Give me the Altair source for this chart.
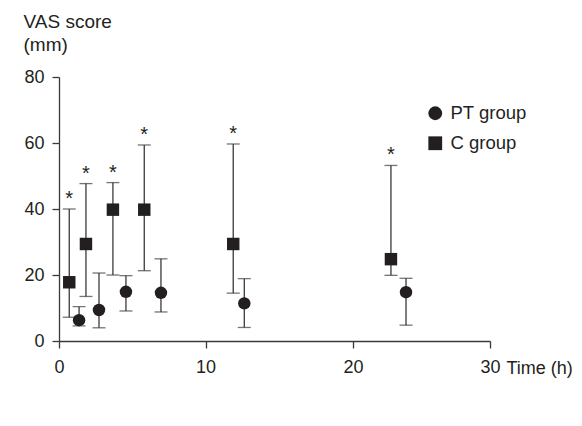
import altair as alt
import pandas as pd

# ---- data ----
groups = ["PT group", "C group"]
c_time = [0.70, 1.84, 3.68, 5.82, 11.88, 22.77]
c_mean = [17.8, 29.4, 39.8, 39.8, 29.4, 24.8]
c_low = [7.2, 13.5, 20.0, 21.3, 14.5, 19.9]
c_high = [40.0, 47.7, 48.0, 59.4, 59.7, 53.2]
pt_time = [1.37, 2.73, 4.57, 6.96, 12.63, 23.87]
pt_mean = [6.3, 9.4, 14.9, 14.6, 11.4, 14.8]
pt_low = [4.6, 4.0, 9.1, 8.8, 4.1, 4.8]
pt_high = [10.4, 20.6, 19.8, 24.9, 18.9, 19.0]
x_ticks = [0, 10, 20, 30]
y_ticks = [0, 20, 40, 60, 80]

rows = []
for t, m, lo, hi in zip(pt_time, pt_mean, pt_low, pt_high):
    rows.append({"time": t, "mean": m, "low": lo, "high": hi, "group": "PT group", "star": ""})
for t, m, lo, hi in zip(c_time, c_mean, c_low, c_high):
    rows.append({"time": t, "mean": m, "low": lo, "high": hi, "group": "C group", "star": "*"})
df = pd.DataFrame(rows)

INK = "#231f20"
LINE = "#3a3a3a"
FONT = "Liberation Sans"

xscale = alt.Scale(domain=[0, 10, 20, 30], range=[0, 146.5, 294, 431], nice=False, zero=False)
yscale = alt.Scale(domain=[0, 80], nice=False, zero=False)

xaxis = alt.Axis(values=x_ticks, title="Time (h)", titleX=447, titleY=32.5,
                 titleAlign="left", titleBaseline="alphabetic", titleFontWeight="normal",
                 titleFontSize=18, labelFontSize=18, tickSize=7, labelPadding=10,
                 grid=False, labelFlush=False)
yaxis = alt.Axis(values=y_ticks, title=["VAS score", "(mm)"], titleAngle=0,
                 titleX=-36, titleY=-50, titleAlign="left", titleBaseline="alphabetic",
                 titleLineHeight=23, titleFontWeight="normal", titleFontSize=19,
                 labelFontSize=18, tickSize=7, labelPadding=8, grid=False)

base = alt.Chart(df)

bars = base.mark_rule(color=LINE, strokeWidth=1.3).encode(
    x=alt.X("time:Q", scale=xscale, axis=xaxis),
    y=alt.Y("low:Q", scale=yscale, axis=yaxis),
    y2="high:Q",
)
cap_hi = base.mark_tick(orient="horizontal", size=13, thickness=1.3, color=LINE).encode(
    x=alt.X("time:Q", scale=xscale), y=alt.Y("high:Q", scale=yscale))
cap_lo = base.mark_tick(orient="horizontal", size=13, thickness=1.3, color=LINE).encode(
    x=alt.X("time:Q", scale=xscale), y=alt.Y("low:Q", scale=yscale))

points = base.mark_point(filled=True, opacity=1, color=INK, size=155).encode(
    x=alt.X("time:Q", scale=xscale),
    y=alt.Y("mean:Q", scale=yscale),
    shape=alt.Shape("group:N", scale=alt.Scale(domain=groups, range=["circle", "square"]),
                    legend=alt.Legend(title=None, orient="none", legendX=367, legendY=27,
                                      symbolSize=190, symbolFillColor=INK, symbolStrokeWidth=0,
                                      symbolOpacity=1,
                                      labelFontSize=18.5, labelOffset=6, rowPadding=11,
                                      padding=0, labelColor=INK, labelFont=FONT)),
)

stars = base.transform_filter(alt.datum.group == "C group").mark_text(
    fontSize=20, font=FONT, color=INK, baseline="alphabetic", dy=-4).encode(
    x=alt.X("time:Q", scale=xscale), y=alt.Y("high:Q", scale=yscale), text="star:N")

chart = alt.layer(bars, cap_hi, cap_lo, points, stars).properties(
    width=431, height=264,
    autosize=alt.AutoSizeParams(type="none"),
    padding={"left": 51, "top": 69, "right": 84, "bottom": 77},
    background="white",
).configure_view(stroke=None).configure_axis(
    domainColor=LINE, tickColor=LINE, domainWidth=1.3, tickWidth=1.3,
    labelColor=INK, titleColor=INK, labelFont=FONT, titleFont=FONT,
)

chart.save("out.html", embed_options={"renderer": "svg", "actions": False})
